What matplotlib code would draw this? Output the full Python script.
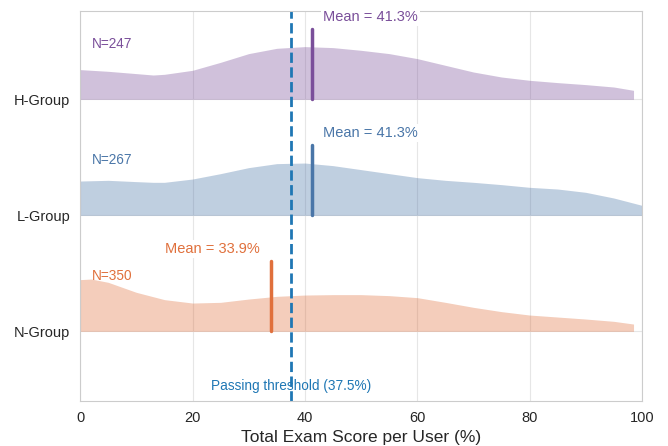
import numpy as np
import matplotlib
matplotlib.use("Agg")
import matplotlib.pyplot as plt
import seaborn as sns

sns.set_style("whitegrid")
plt.rcParams['font.family'] = ['Liberation Sans', 'DejaVu Sans']

groups = ["N-Group", "L-Group", "H-Group"]
counts = [350, 267, 247]
means = [33.9, 41.3, 41.3]
colors = ["#e0703c", "#4a76a8", "#7a4f9a"]
threshold = 37.5

# relative density curves
n_x = [0, 2, 5, 10, 15, 20, 25, 30, 35, 40, 45, 50, 55, 60, 65, 70, 75, 80, 85, 90, 95, 98.5]
n_d = [51.7, 52.3, 49, 39, 31.7, 28.3, 29, 32.3, 35, 36.3, 36.7, 36.7, 35.7, 33.7, 29, 24,
       19.7, 16.3, 14.3, 12.3, 10, 7.3]
l_x = [0, 5, 10, 13, 15, 20, 25, 30, 35, 40, 45, 50, 55, 60, 65, 70, 75, 80, 85, 90, 95, 100]
l_d = [34.3, 35, 33.7, 33, 33, 36.3, 41.7, 47.7, 51.7, 52.3, 49.7, 45.7, 41.7, 37.7, 35, 33,
       30.7, 28, 26.3, 23, 17.3, 10]
h_x = [0, 5, 10, 13, 15, 20, 25, 30, 35, 40, 45, 50, 55, 60, 65, 70, 75, 80, 85, 90, 95, 98.5]
h_d = [29.7, 28, 25.7, 24.3, 25, 29, 37, 45.7, 51, 52.7, 51.7, 49, 45.7, 40.7, 34, 27.3,
       22.3, 19, 16.7, 14.7, 12.3, 9]

xs = [n_x, l_x, h_x]
ds = [n_d, l_d, h_d]
SCALE = 1 / 116.0
MEAN_H = 0.61

fig, ax = plt.subplots(figsize=(6.68, 4.46), dpi=100)

for i, (g, c, m, n, x, d) in enumerate(zip(groups, colors, means, counts, xs, ds)):
    base = i
    y = base + np.array(d) * SCALE
    ax.fill_between(x, base, y, color=c, alpha=0.35, lw=0)
    ax.plot([m, m], [base, base + MEAN_H], color=c, lw=2.5, solid_capstyle='round')
    bbox = dict(facecolor='white', edgecolor='none', pad=1.5)
    if m < threshold:
        ax.text(m - 2.0, base + 0.71, f"Mean = {m}%", color=c, fontsize=10.5,
                ha='right', va='center', bbox=bbox, clip_on=False, zorder=4)
    else:
        ax.text(m + 1.9, base + 0.71, f"Mean = {m}%", color=c, fontsize=10.5,
                ha='left', va='center', bbox=bbox, clip_on=False, zorder=4)
    ax.text(2, base + 0.48, f"N={n}", color=c, fontsize=9.8, ha='left', va='center')

ax.axvline(threshold, color="#1f77b4", ls='--', lw=2)
ax.text(threshold, -0.47, f"Passing threshold ({threshold}%)", color="#1f77b4",
        fontsize=9.8, ha='center', va='center')

ax.set_xlim(0, 100)
ax.set_ylim(-0.6, 2.76)
ax.set_yticks(range(len(groups)))
ax.set_yticklabels(groups, fontsize=10.5)
ax.tick_params(axis='x', labelsize=10.5)
ax.set_xlabel("Total Exam Score per User (%)", fontsize=12.5)
ax.grid(True, color="#e6e6e6")

fig.subplots_adjust(left=0.12, right=0.961, top=0.975, bottom=0.101)
fig.savefig("out.png", dpi=100)
